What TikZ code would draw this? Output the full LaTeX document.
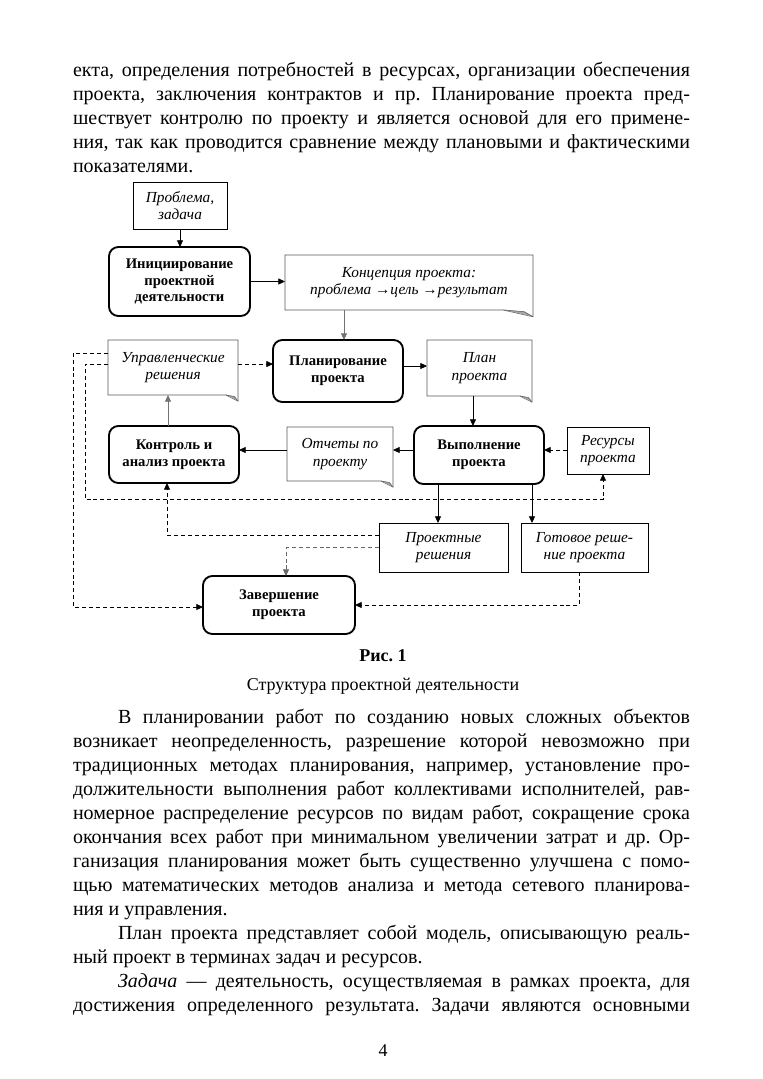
\documentclass[tikz,border=0pt]{standalone}
\usepackage{fontspec}
\setmainfont[Ligatures=TeX]{Liberation Serif}
\frenchspacing
\usetikzlibrary{arrows.meta,calc}
\tikzset{
 every node/.style={inner sep=0pt, outer sep=0pt},
 tl/.style={anchor=base west, font=\fontsize{15}{18}\selectfont},
 sz/.style 2 args={minimum width=#1*0.75pt, minimum height=#2*0.75pt},
 rbox/.style={draw, line width=1.4pt, rounded corners=7pt, align=center, font=\fontsize{11}{12.5}\selectfont\bfseries},
 sbox/.style={draw, line width=0.6pt, align=center, font=\fontsize{11.5}{13}\selectfont\itshape},
 nbox/.style={align=center, font=\fontsize{11.5}{13}\selectfont\itshape},
 notedraw/.style={draw=black!65, line width=0.6pt},
 arr/.style={-{Triangle[length=5pt,width=4.5pt]}, line width=0.6pt},
 garr/.style={arr, draw=black!55},
 darr/.style={arr, dash pattern=on 3pt off 2.2pt},
}
\newcommand\notefold[3]{%
 \draw[notedraw] (#1.north west) -- (#1.north east) -- ($(#1.south east)+(0,-#3)$) -- ($(#1.south east)+(-#2,0)$) -- (#1.south west) -- cycle;
 \fill[black!35] ($(#1.south east)+(-#2,0)$) -- ($(#1.south east)+(0,-#3)$) -- ($(#1.south east)+(-0.3*#2,-0.25*#3)$) -- cycle;
 \draw[black!65, line width=0.4pt] ($(#1.south east)+(-#2,0)$) -- ($(#1.south east)+(-0.3*#2,-0.25*#3)$) -- ($(#1.south east)+(0,-#3)$);}
\begin{document}
\begin{tikzpicture}[x=0.75pt,y=-0.75pt]
\path[fill=white, use as bounding box] (0,0) rectangle (763,1079);

% top paragraph
\node[tl] (t1) at (73,76) {\makebox[462.75pt][s]{екта, определения потребностей в ресурсах, организации обеспечения}};
\node[tl] (t2) at (73,100) {\makebox[462.75pt][s]{проекта, заключения контрактов и пр. Планирование проекта пред-}};
\node[tl] (t3) at (73,124) {\makebox[462.75pt][s]{шествует контролю по проекту и является основой для его примене-}};
\node[tl] (t4) at (73,148) {\makebox[462.75pt][s]{ния, так как проводится сравнение между плановыми и фактическими}};
\node[tl] (t5) at (73,172) {показателями.};

% diagram nodes
\node[sbox, sz={94}{47}] (prob) at (180,205.5) {Проблема,\\задача};
\node[rbox, sz={141}{69}] (init) at (179.5,281.5) {Инициирование\\проектной\\деятельности};
\node[nbox, sz={248}{55}] (conc) at (409,282.5) {Концепция проекта:\\проблема →цель →результат};
\node[rbox, sz={130}{62}] (plan) at (338,371) {Планирование\\проекта};
\node[nbox, sz={105}{56}] (pp) at (479.5,368) {План\\проекта};
\node[nbox, sz={130}{55}] (upr) at (173,367.5) {Управленческие\\решения};
\node[rbox, sz={130}{58}] (vyp) at (479,455) {Выполнение\\проекта};
\node[nbox, sz={106}{54}] (otch) at (340,454) {Отчеты по\\проекту};
\node[rbox, sz={130}{57}] (kont) at (174,454.5) {Контроль и\\анализ проекта};
\node[sbox, sz={82}{47}] (res) at (608,450.5) {Ресурсы\\проекта};
\node[sbox, sz={129}{49}] (proj) at (443.5,547.5) {Проектные\\решения};
\node[sbox, sz={127}{49}] (got) at (584.5,547.5) {Готовое реше-\\ние проекта};
\node[rbox, sz={152}{58}] (zav) at (279,605) {Завершение\\проекта};

\notefold{conc}{22pt}{5pt}
\notefold{pp}{9pt}{4.5pt}
\notefold{upr}{9pt}{4.5pt}
\notefold{otch}{9pt}{4.5pt}

% helper coordinates
\coordinate (rowB) at (0,450);
\coordinate (cx1) at (344,0);
\coordinate (cx2) at (168,0);
\coordinate (bendA) at (73,607);
\coordinate (bendB) at (85,499);
\coordinate (bendC) at (603,499);

% solid connectors
\draw[arr] (prob.south) -- (prob.south |- init.north);
\draw[arr] (init.east) -- (init.east -| conc.west);
\draw[garr] (cx1 |- conc.south) -- (cx1 |- plan.north);
\draw[arr] ([yshift=3.75pt]plan.east) -- ([yshift=3.75pt]plan.east -| pp.west);
\draw[arr] ([xshift=-4.9pt]pp.south) -- ([xshift=-4.9pt]pp.south |- vyp.north);
\draw[arr] (vyp.west |- rowB) -- (otch.east |- rowB);
\draw[arr] (otch.west |- rowB) -- (kont.east |- rowB);
\draw[garr] (cx2 |- kont.north) -- (cx2 |- upr.south);
\draw[arr] ([xshift=-30.75pt]vyp.south) -- ([xshift=-30.75pt]vyp.south |- proj.north);
\draw[arr] ([xshift=39.75pt]vyp.south) -- ([xshift=39.75pt]vyp.south |- got.north);

% dashed connectors
\draw[darr] (res.west |- rowB) -- (vyp.east |- rowB);
\draw[darr] ([yshift=2.6pt]upr.east) -- ([yshift=2.6pt]upr.east -| plan.west);
\draw[darr] ([yshift=10.9pt]upr.west) -| (bendA) -- (bendA -| zav.west);
\draw[darr] ([yshift=2.6pt]upr.west) -| (bendB) -- (bendC) -- (bendC |- res.south);
\draw[darr] ([yshift=9.4pt]proj.west) -| ([xshift=-5.25pt]kont.south);
\draw[darr, draw=black!60] (proj.west) -| ([xshift=5.25pt]zav.north);
\draw[darr] ([xshift=-4.1pt]got.south) |- (zav.east);

% caption
\node[anchor=base, font=\fontsize{13.5}{16}\selectfont\bfseries] (fig) at (383,661) {Рис. 1};
\node[anchor=base, font=\fontsize{13.5}{16}\selectfont] (cap) at (383,690) {Структура проектной деятельности};

% second paragraph
\node[tl] (a1) at (118,723) {\makebox[429pt][s]{В планировании работ по созданию новых сложных объектов}};
\node[tl] (a2) at (73,747) {\makebox[462.75pt][s]{возникает неопределенность, разрешение которой невозможно при}};
\node[tl] (a3) at (73,771) {\makebox[462.75pt][s]{традиционных методах планирования, например, установление про-}};
\node[tl] (a4) at (73,795) {\makebox[462.75pt][s]{должительности выполнения работ коллективами исполнителей, рав-}};
\node[tl] (a5) at (73,819) {\makebox[462.75pt][s]{номерное распределение ресурсов по видам работ, сокращение срока}};
\node[tl] (a6) at (73,843) {\makebox[462.75pt][s]{окончания всех работ при минимальном увеличении затрат и др. Ор-}};
\node[tl] (a7) at (73,867) {\makebox[462.75pt][s]{ганизация планирования может быть существенно улучшена с помо-}};
\node[tl] (a8) at (73,891) {\makebox[462.75pt][s]{щью математических методов анализа и метода сетевого планирова-}};
\node[tl] (a9) at (73,915) {ния и управления.};
\node[tl] (b1) at (118,939) {\makebox[429pt][s]{План проекта представляет собой модель, описывающую реаль-}};
\node[tl] (b2) at (73,963) {ный проект в терминах задач и ресурсов.};
\node[tl] (c1) at (118,987) {\makebox[429pt][s]{\textit{Задача} — деятельность, осуществляемая в рамках проекта, для}};
\node[tl] (c2) at (73,1011) {\makebox[462.75pt][s]{достижения определенного результата. Задачи являются основными}};

\node[anchor=base, font=\fontsize{13.5}{16}\selectfont] (pg) at (383,1056) {4};
\end{tikzpicture}
\end{document}
